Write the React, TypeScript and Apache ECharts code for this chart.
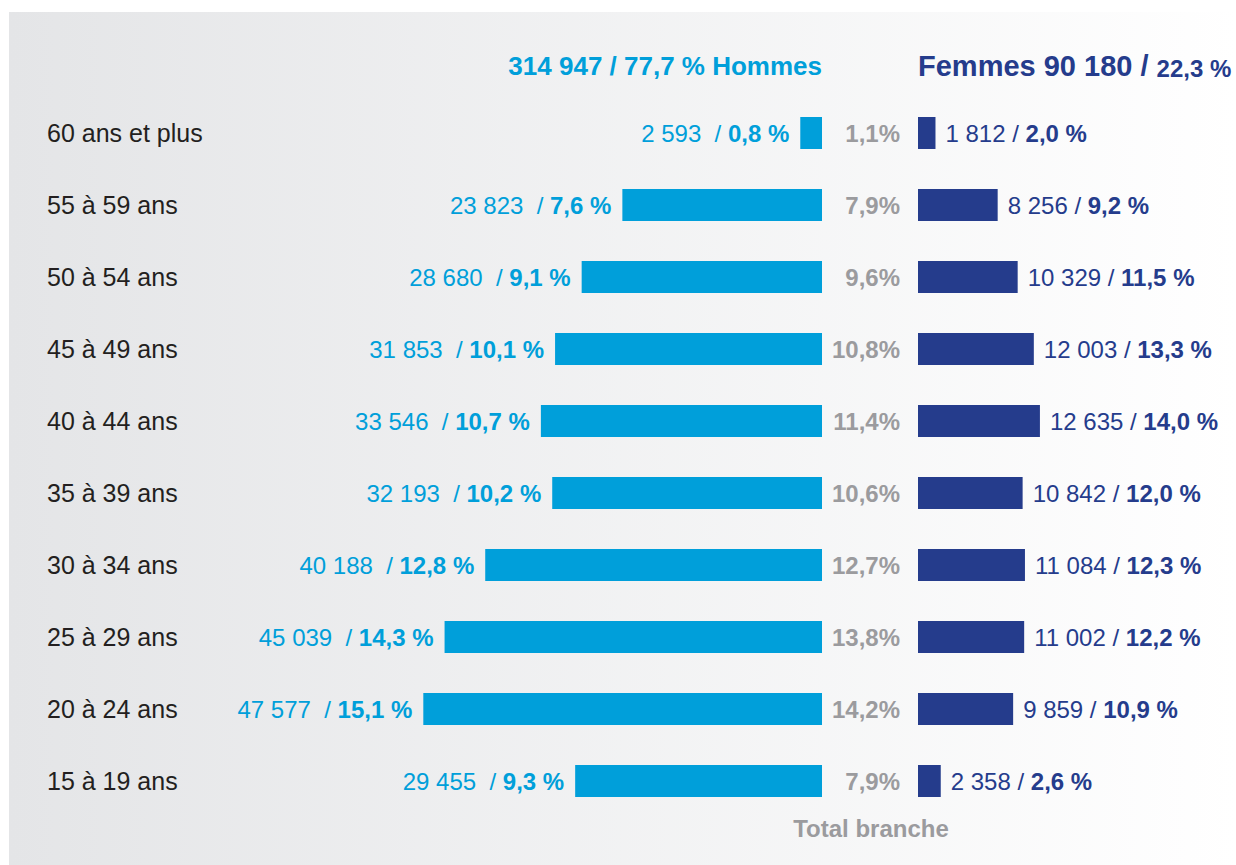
import { useEffect, useRef } from "react";
import * as echarts from "echarts";

const categories = [
  "60 ans et plus",
  "55 à 59 ans",
  "50 à 54 ans",
  "45 à 49 ans",
  "40 à 44 ans",
  "35 à 39 ans",
  "30 à 34 ans",
  "25 à 29 ans",
  "20 à 24 ans",
  "15 à 19 ans",
];
const menCounts = [2593, 23823, 28680, 31853, 33546, 32193, 40188, 45039, 47577, 29455];
const menShares = [0.8, 7.6, 9.1, 10.1, 10.7, 10.2, 12.8, 14.3, 15.1, 9.3];
const branchShares = [1.1, 7.9, 9.6, 10.8, 11.4, 10.6, 12.7, 13.8, 14.2, 7.9];
const womenCounts = [1812, 8256, 10329, 12003, 12635, 10842, 11084, 11002, 9859, 2358];
const womenShares = [2.0, 9.2, 11.5, 13.3, 14.0, 12.0, 12.3, 12.2, 10.9, 2.6];
const menTotal = 314947;
const menTotalShare = 77.7;
const womenTotal = 90180;
const womenTotalShare = 22.3;

const fmtInt = (n: number) => String(n).replace(/\B(?=(\d{3})+(?!\d))/g, " ");
const fmtPct = (p: number) => p.toFixed(1).replace(".", ",");

const CYAN = "#009fda";
const NAVY = "#253c8c";
const GRAY = "#9b9b9e";
const FONT = "'Liberation Sans', Arial, sans-serif";

export default function App() {
  const ref = useRef<HTMLDivElement>(null);
  useEffect(() => {
    if (!ref.current) return;
    const chart = echarts.init(ref.current, undefined, { renderer: "svg" });
    chart.setOption({
      animation: false,
      graphic: [
        {
          type: "rect",
          z: -10,
          shape: { x: 9, y: 12, width: 1227, height: 853 },
          style: {
            fill: new echarts.graphic.LinearGradient(0, 0, 1, 0, [
              { offset: 0, color: "#e4e5e7" },
              { offset: 1, color: "#ffffff" },
            ]),
          },
          silent: true,
        },
        {
          type: "text",
          x: 822,
          y: 66,
          style: {
            text: `${fmtInt(menTotal)} / ${fmtPct(menTotalShare)} % Hommes`,
            fill: CYAN,
            font: `bold 26px ${FONT}`,
            align: "right",
            verticalAlign: "middle",
          },
        },
        {
          type: "text",
          x: 918,
          y: 66,
          style: {
            text: `{a|Femmes ${fmtInt(womenTotal)} / }{b|${fmtPct(womenTotalShare)} %}`,
            align: "left",
            verticalAlign: "middle",
            rich: {
              a: { fill: NAVY, fontWeight: "bold", fontSize: 29, fontFamily: FONT },
              b: { fill: NAVY, fontWeight: "bold", fontSize: 24, fontFamily: FONT, padding: [4, 0, 0, 0] },
            },
          },
        },
        {
          type: "text",
          x: 871,
          y: 828,
          style: {
            text: "Total branche",
            fill: GRAY,
            font: `bold 24px ${FONT}`,
            align: "center",
            verticalAlign: "middle",
          },
        },
      ],
      grid: [
        { left: 403, right: 414, top: 97, bottom: 48 },
        { left: 918, right: 125, top: 97, bottom: 48 },
      ],
      xAxis: [
        { gridIndex: 0, type: "value", min: 0, max: 50000, inverse: true, show: false },
        { gridIndex: 1, type: "value", min: 0, max: 20000, show: false },
      ],
      yAxis: [
        {
          gridIndex: 0,
          type: "category",
          data: categories,
          inverse: true,
          axisLine: { show: false, onZero: false },
          axisTick: { show: false },
          splitLine: { show: false },
          axisLabel: {
            align: "left",
            margin: 356,
            fontSize: 25,
            color: "#231f20",
            fontFamily: FONT,
          },
        },
        {
          gridIndex: 1,
          type: "category",
          data: categories,
          inverse: true,
          axisLine: { show: false, onZero: false },
          axisTick: { show: false },
          splitLine: { show: false },
          axisLabel: {
            margin: 18,
            fontSize: 24,
            fontWeight: "bold",
            color: GRAY,
            fontFamily: FONT,
            formatter: (_v: string, i: number) => `${fmtPct(branchShares[i])}%`,
          },
        },
      ],
      series: [
        {
          name: "Hommes",
          type: "bar",
          xAxisIndex: 0,
          yAxisIndex: 0,
          data: menCounts,
          barWidth: 32,
          itemStyle: { color: CYAN },
          label: {
            show: true,
            position: "left",
            distance: 11,
            formatter: (p: any) => `{n|${fmtInt(menCounts[p.dataIndex])}}{n|  / }{b|${fmtPct(menShares[p.dataIndex])} %}`,
            rich: {
              n: { color: CYAN, fontSize: 24, fontFamily: FONT },
              b: { color: CYAN, fontSize: 24, fontWeight: "bold", fontFamily: FONT },
            },
          },
        },
        {
          name: "Femmes",
          type: "bar",
          xAxisIndex: 1,
          yAxisIndex: 1,
          data: womenCounts,
          barWidth: 32,
          itemStyle: { color: NAVY },
          label: {
            show: true,
            position: "right",
            distance: 10,
            formatter: (p: any) => `{n|${fmtInt(womenCounts[p.dataIndex])} / }{b|${fmtPct(womenShares[p.dataIndex])} %}`,
            rich: {
              n: { color: NAVY, fontSize: 24, fontFamily: FONT },
              b: { color: NAVY, fontSize: 24, fontWeight: "bold", fontFamily: FONT },
            },
          },
        },
      ],
    });
    return () => chart.dispose();
  }, []);
  return (
    <div
      ref={ref}
      style={{ position: "fixed", left: 0, top: 0, width: 1236, height: 865, background: "#ffffff" }}
    />
  );
}
